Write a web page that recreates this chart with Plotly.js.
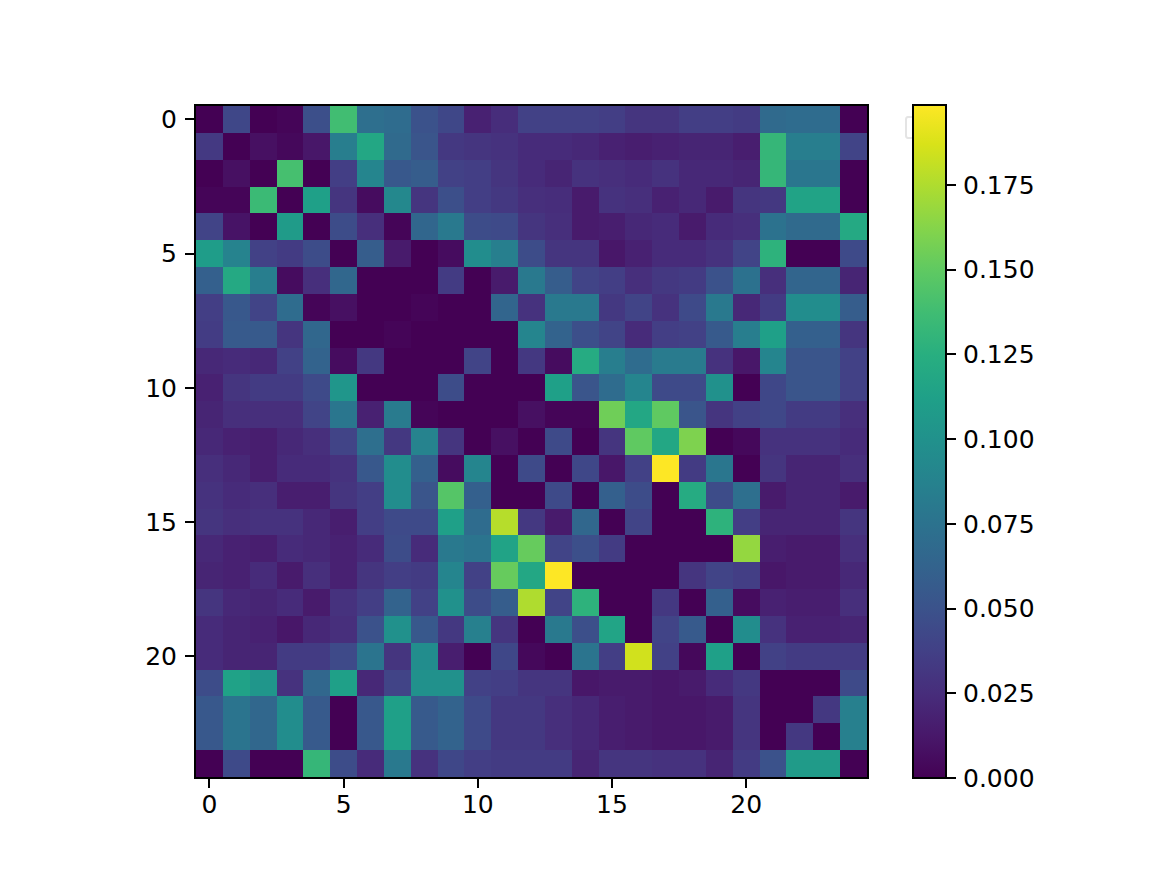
<!DOCTYPE html>
<html>
<head>
<meta charset="utf-8">
<script src="https://cdn.plot.ly/plotly-3.0.1.min.js"></script>
<style>html,body{margin:0;padding:0;background:#fff}</style>
</head>
<body>
<div id="chart" style="width:1165px;height:874px"></div>
<script>
const row00 = [0,.042,0,.002,.048,.138,.072,.070,.050,.042,.018,.025,.038,.038,.038,.036,.030,.030,.036,.036,.034,.068,.070,.070,0];
const row01 = [.033,0,.008,.004,.012,.084,.118,.068,.052,.032,.030,.028,.024,.024,.022,.018,.016,.018,.020,.020,.016,.132,.084,.084,.040];
const row02 = [0,.008,0,.140,0,.036,.090,.054,.058,.038,.036,.030,.024,.020,.028,.026,.024,.028,.022,.022,.020,.132,.078,.078,0];
const row03 = [.002,.002,.135,0,.112,.030,.006,.092,.030,.048,.036,.032,.026,.025,.014,.028,.026,.018,.022,.014,.030,.032,.115,.115,0];
const row04 = [.040,.010,0,.108,0,.046,.026,.002,.065,.080,.046,.044,.030,.026,.014,.016,.022,.024,.014,.024,.026,.075,.068,.068,.120];
const row05 = [.110,.088,.038,.034,.046,0,.058,.014,0,.006,.096,.085,.046,.030,.030,.012,.018,.024,.024,.028,.040,.128,0,0,.044];
const row06 = [.060,.120,.084,.006,.026,.066,0,0,0,.034,0,.014,.080,.058,.040,.036,.026,.032,.034,.050,.074,.026,.064,.064,.020];
const row07 = [.036,.054,.040,.070,.002,.008,0,0,.002,0,0,.064,.028,.080,.080,.032,.040,.028,.044,.080,.022,.034,.096,.096,.058];
const row08 = [.035,.056,.056,.030,.066,0,0,.002,0,0,0,0,.090,.062,.048,.040,.024,.036,.038,.056,.084,.112,.060,.060,.030];
const row09 = [.022,.024,.022,.038,.062,.006,.032,0,0,0,.040,0,.032,.006,.122,.084,.070,.082,.082,.028,.012,.090,.052,.052,.038];
const row10 = [.018,.030,.034,.034,.044,.104,0,0,0,.046,0,0,0,.112,.052,.070,.090,.044,.044,.100,0,.042,.052,.052,.038];
const row11 = [.020,.026,.026,.026,.040,.078,.018,.082,.002,0,0,0,.008,.002,.002,.155,.118,.150,.052,.030,.038,.042,.034,.034,.026];
const row12 = [.022,.018,.016,.022,.026,.040,.072,.032,.088,.030,0,.008,0,.044,0,.030,.150,.118,.160,0,.004,.028,.028,.028,.024];
const row13 = [.026,.022,.016,.024,.024,.028,.054,.096,.060,.006,.090,0,.044,0,.042,.012,.038,.199,.034,.078,0,.030,.020,.020,.026];
const row14 = [.028,.024,.026,.016,.016,.030,.036,.096,.052,.146,.060,0,0,.044,0,.060,.046,0,.122,.046,.072,.014,.020,.020,.014];
const row15 = [.030,.026,.028,.028,.022,.016,.036,.044,.044,.112,.070,.177,.032,.014,.066,0,.040,0,0,.128,.036,.020,.020,.020,.030];
const row16 = [.022,.018,.016,.024,.022,.018,.024,.046,.024,.080,.076,.115,.152,.040,.048,.034,0,0,0,0,.167,.016,.014,.014,.026];
const row17 = [.020,.018,.024,.014,.026,.018,.030,.036,.034,.090,.038,.152,.118,.199,0,0,0,0,.030,.040,.036,.012,.014,.014,.022];
const row18 = [.030,.022,.020,.024,.014,.028,.036,.062,.038,.100,.046,.058,.175,.040,.128,0,0,.032,0,.060,.006,.018,.016,.016,.026];
const row19 = [.024,.020,.018,.012,.022,.026,.050,.100,.054,.032,.086,.030,0,.080,.048,.116,0,.040,.056,0,.096,.028,.018,.018,.020];
const row20 = [.024,.020,.020,.034,.034,.044,.076,.030,.096,.016,0,.042,.004,0,.076,.036,.185,.038,.004,.112,0,.038,.034,.034,.034];
const row21 = [.046,.114,.104,.028,.066,.112,.022,.040,.100,.100,.038,.036,.030,.030,.012,.014,.014,.012,.014,.024,.032,0,0,0,.044];
const row22 = [.054,.076,.066,.096,.056,0,.054,.112,.056,.062,.044,.032,.032,.026,.022,.016,.014,.012,.012,.014,.030,0,0,.032,.086];
const row23 = [.054,.076,.066,.096,.056,0,.054,.112,.056,.062,.044,.032,.032,.026,.022,.016,.014,.012,.012,.014,.030,0,.032,0,.086];
const row24 = [0,.044,0,0,.132,.046,.024,.080,.028,.042,.036,.034,.034,.034,.020,.030,.030,.028,.028,.020,.034,.050,.108,.108,0];

const matrix = [row00,row01,row02,row03,row04,row05,row06,row07,row08,row09,row10,row11,row12,
                row13,row14,row15,row16,row17,row18,row19,row20,row21,row22,row23,row24];
const axisTicks = [0,5,10,15,20];
const barTicks = [0,.025,.05,.075,.1,.125,.15,.175];
const barLabels = ['0.000','0.025','0.050','0.075','0.100','0.125','0.150','0.175'];

const font = {family:'"DejaVu Sans", sans-serif', size:25, color:'#000'};
const axisCommon = {
  showgrid:false, zeroline:false, showline:true, mirror:true, linecolor:'#000', linewidth:2,
  ticks:'outside', ticklen:9, tickwidth:2, tickcolor:'#000', tickmode:'array',
  tickvals:axisTicks, ticktext:axisTicks.map(String), tickfont:font
};

Plotly.newPlot('chart', [{
  type:'heatmap', z:matrix, colorscale:'Viridis', zmin:0, zmax:.1986, zsmooth:false,
  colorbar:{
    x:1.0686, xref:'paper', xanchor:'left', y:.5, yanchor:'middle', len:1.003, lenmode:'fraction',
    thickness:33, thicknessmode:'pixels', outlinewidth:2, outlinecolor:'#000', borderwidth:0, xpad:0, ypad:0,
    ticks:'outside', ticklen:9, tickwidth:2, tickcolor:'#000', tickmode:'array',
    tickvals:barTicks, ticktext:barLabels.map(s => '\u200A' + s), tickfont:font
  }
}], {
  width:1165, height:874,
  margin:{l:196, r:298, t:106, b:97, pad:0},
  paper_bgcolor:'#fff', plot_bgcolor:'#fff', showlegend:false,
  xaxis:Object.assign({range:[-.5,24.5], ticklabelstandoff:-5}, axisCommon),
  yaxis:Object.assign({range:[24.5,-.5], ticklabelstandoff:3}, axisCommon),
  shapes:[{type:'path', xref:'paper', yref:'paper', layer:'below',
    path:'M 1.0686 .9836 L 1.0610 .9836 Q 1.0581 .9836 1.0581 .9795 L 1.0581 .9565 Q 1.0581 .9523 1.0610 .9523 L 1.0686 .9523',
    line:{color:'#e4e4e4', width:2}, fillcolor:'rgba(0,0,0,0)'}]
}, {displayModeBar:false, staticPlot:true});
</script>
</body>
</html>
